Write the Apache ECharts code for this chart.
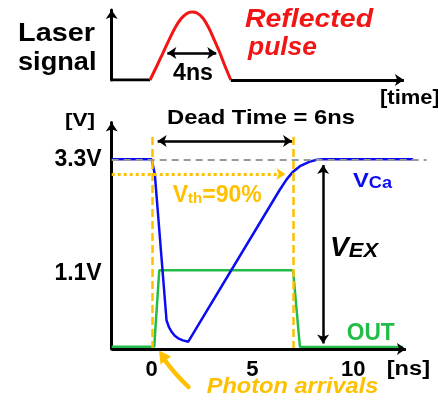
<!DOCTYPE html>
<html><head><meta charset="utf-8">
<script src="https://cdn.jsdelivr.net/npm/echarts@6/dist/echarts.min.js"></script>
<style>html,body{margin:0;padding:0;background:#fff}#c{width:438px;height:403px}</style>
</head><body><div id="c"></div>
<script>
// ---------- data (time in ns, level in drawn volts) ----------
const pulseTime  = [-0.08, 0.26, 0.56, 0.86, 1.16, 1.45, 1.75, 2.0, 2.25, 2.54, 2.84, 3.09, 3.39, 3.64, 3.93];
const pulseLevel = [0, 0.206, 0.397, 0.588, 0.765, 0.897, 0.978, 1.0, 0.985, 0.912, 0.765, 0.603, 0.397, 0.206, 0];
const laserBaseLeft  = [-1.98, -0.08];
const laserBaseRight = [3.93, 12.52];
const pulseWidthArrow = [0.78, 3.21, 0.397];

const vcaTime  = [-1.98, 0, 0.16, 0.74, 0.86, 0.99, 1.15, 1.32, 1.55, 1.82, 6.36, 6.7, 7.02, 7.36, 7.85, 8.2, 8.51, 12.98];
const vcaLevel = [3.3, 3.3, 3.04, 0.50, 0.38, 0.30, 0.23, 0.186, 0.15, 0.127, 2.77, 2.95, 3.085, 3.18, 3.26, 3.293, 3.3, 3.3];
const outTime  = [-1.98, 0.13, 0.38, 7.02, 7.36, 12.47];
const outLevel = [0.04, 0.04, 1.37, 1.37, 0.035, 0.035];

const xTickValues = [0, 5, 10];
const yTickValues = [1.31, 3.3];
const yTickLabels = ['1.1V', '3.3V'];
const vddLevel = 3.3;
const vthLevel = 3.045;
const photonTimes = [0.05, 7.03];
const deadTimeArrow = [0.30, 6.97, 3.62];
const vexArrow = [8.51, 3.2, 0.096];
const xAxisEnd = 12.62;
const xMin = -1.98, xMax = 13.7;

// ---------- styles ----------
const F = '"Liberation Sans", Arial, sans-serif';
const BLUE = '#0c0cf2', GREEN = '#22bd48', GOLD = '#ffc000', RED = '#f21515';
const zip = (a, b) => a.map((v, i) => [v, b[i]]);
const arrowEnd = (c, sym, size) => ({ coord: c, symbol: sym, symbolSize: size || [9, 10] });

const mctx = document.createElement('canvas').getContext('2d');
function fontOf(p) { return (p.italic ? 'italic ' : '') + 'bold ' + p.size + 'px ' + F; }
function tw(t, font) { mctx.font = font; return mctx.measureText(t).width; }
// text run with a horizontal stretch so that it spans `width` pixels
function run(x, base, width, parts) {
  const total = parts.reduce((s, p) => s + tw(p.t, fontOf(p)), 0);
  const k = width ? width / total : 1.1;
  const out = [];
  parts.forEach(p => {
    const font = fontOf(p);
    out.push({ type: 'text', x: x, y: base + (p.dy || 0) - 0.3465 * p.size, scaleX: k, silent: true, z: 50,
      style: { text: p.t, font: font, fill: p.fill || '#000', align: 'left', verticalAlign: 'middle' } });
    x += tw(p.t, font) * k;
  });
  return out;
}

const graphics = [].concat(
  run(18, 43, 77, [{ t: 'Laser', size: 26 }]),
  run(18, 71.7, 78.5, [{ t: 'signal', size: 26 }]),
  run(245, 28.3, 128, [{ t: 'Reflected', size: 25, italic: true, fill: RED }]),
  run(248, 57, 69, [{ t: 'pulse', size: 25, italic: true, fill: RED }]),
  run(173, 82, 40, [{ t: '4ns', size: 23 }]),
  run(380, 105, 0, [{ t: '[time]', size: 20 }]),
  run(65, 127.5, 30, [{ t: '[V]', size: 19 }]),
  run(167, 125, 188, [{ t: 'Dead Time = 6ns', size: 21 }]),
  run(172.7, 203.3, 89, [{ t: 'V', size: 23, fill: GOLD }, { t: 'th', size: 15, fill: GOLD, dy: 1 }, { t: '=90%', size: 23, fill: GOLD }]),
  run(353, 188.5, 39, [{ t: 'V', size: 21, fill: BLUE }, { t: 'Ca', size: 16, fill: BLUE, dy: 1 }]),
  run(330, 258, 48, [{ t: 'V', size: 27, italic: true }, { t: 'EX', size: 21, italic: true }]),
  run(346.7, 341.7, 48, [{ t: 'OUT', size: 23, fill: GREEN }]),
  run(386.7, 376.5, 43.3, [{ t: '[ns]', size: 20 }]),
  run(206.7, 395, 171.7, [{ t: 'Photon arrivals', size: 22, italic: true, fill: GOLD }]),
  [
    { type: 'bezierCurve', silent: true, z: 40,
      shape: { x1: 188.5, y1: 387, cpx1: 174, cpy1: 373, x2: 165.5, y2: 361 },
      style: { stroke: GOLD, lineWidth: 4.5, fill: null, lineCap: 'round' } },
    { type: 'polygon', silent: true, z: 40,
      shape: { points: [[159, 350.5], [171, 356.5], [160.5, 364.5]] },
      style: { fill: GOLD } }
  ]
);

const chart = echarts.init(document.getElementById('c'), null, { renderer: 'canvas' });
chart.setOption({
  animation: false,
  backgroundColor: '#fff',
  grid: [
    { left: 111.7, right: 10.3, top: 10, height: 70 },
    { left: 111.7, right: 10.3, top: 122.5, height: 226.5 }
  ],
  xAxis: [
    { type: 'value', gridIndex: 0, min: xMin, max: xMax, show: false },
    { type: 'value', gridIndex: 1, min: xMin, max: xMax,
      axisLine: { show: false }, axisTick: { show: false }, splitLine: { show: false },
      axisLabel: { customValues: xTickValues, margin: 10, color: '#000',
        fontFamily: F, fontWeight: 'bold', fontSize: 22 } }
  ],
  yAxis: [
    { type: 'value', gridIndex: 0, min: 0, max: 1.03,
      axisLine: { show: true, onZero: false, symbol: ['none', 'arrow'], symbolSize: [9, 9],
        lineStyle: { color: '#000', width: 3 } },
      axisTick: { show: false }, axisLabel: { show: false }, splitLine: { show: false } },
    { type: 'value', gridIndex: 1, min: 0, max: 3.94,
      axisLine: { show: true, onZero: false, symbol: ['none', 'arrow'], symbolSize: [9, 9],
        lineStyle: { color: '#000', width: 3 } },
      axisTick: { show: false }, splitLine: { show: false },
      axisLabel: { customValues: yTickValues, margin: 10, color: '#000', padding: [5, 0, 0, 0],
        fontFamily: F, fontWeight: 'bold', fontSize: 23,
        formatter: v => yTickLabels[yTickValues.indexOf(v)] } }
  ],
  series: [
    { name: 'laserBase', type: 'line', xAxisIndex: 0, yAxisIndex: 0, symbol: 'none', silent: true,
      data: laserBaseLeft.map(t => [t, 0]), lineStyle: { color: '#000', width: 3 },
      markLine: { silent: true, label: { show: false }, emphasis: { disabled: true },
        lineStyle: { color: '#000', width: 3, type: 'solid' },
        data: [[arrowEnd([laserBaseRight[0], 0], 'none'), arrowEnd([laserBaseRight[1], 0], 'arrow', [9, 9])]] } },
    { name: 'Reflected pulse', type: 'line', xAxisIndex: 0, yAxisIndex: 0, symbol: 'none', smooth: 0.35,
      clip: false, silent: true, z: 3,
      data: zip(pulseTime, pulseLevel), lineStyle: { color: RED, width: 3 },
      markLine: { silent: true, label: { show: false }, emphasis: { disabled: true },
        lineStyle: { color: '#000', width: 2.5, type: 'solid' },
        data: [[arrowEnd([pulseWidthArrow[0], pulseWidthArrow[2]], 'arrow', [9, 9]),
                arrowEnd([pulseWidthArrow[1], pulseWidthArrow[2]], 'arrow', [9, 9])]] } },
    { name: 'OUT', type: 'line', xAxisIndex: 1, yAxisIndex: 1, symbol: 'none', silent: true, z: 2,
      data: zip(outTime, outLevel), lineStyle: { color: GREEN, width: 2.5 },
      markLine: { silent: true, label: { show: false }, emphasis: { disabled: true }, symbol: 'none',
        data: [
          [ { coord: [xMin, vddLevel], symbol: 'none', lineStyle: { color: '#999', width: 2, type: [7, 5] } },
            { coord: [13.64, vddLevel], symbol: 'none' } ],
          [ { coord: [photonTimes[0], 0], symbol: 'none', lineStyle: { color: GOLD, width: 2.5, type: [8, 4] } },
            { coord: [photonTimes[0], 3.75], symbol: 'none' } ],
          [ { coord: [photonTimes[1], 0], symbol: 'none', lineStyle: { color: GOLD, width: 2.5, type: [8, 4] } },
            { coord: [photonTimes[1], 3.75], symbol: 'none' } ],
          [ { coord: [xMin, vthLevel], symbol: 'none', lineStyle: { color: GOLD, width: 3, type: [3, 3] } },
            { coord: [6.64, vthLevel], symbol: 'arrow', symbolSize: [9, 9], itemStyle: { color: GOLD } } ],
          [ { coord: [deadTimeArrow[0], deadTimeArrow[2]], symbol: 'arrow', symbolSize: [9, 9], lineStyle: { color: '#000', width: 2.5, type: 'solid' } },
            { coord: [deadTimeArrow[1], deadTimeArrow[2]], symbol: 'arrow', symbolSize: [9, 9] } ],
          [ { coord: [vexArrow[0], vexArrow[1]], symbol: 'arrow', symbolSize: [9, 9], lineStyle: { color: '#000', width: 2.5, type: 'solid' } },
            { coord: [vexArrow[0], vexArrow[2]], symbol: 'arrow', symbolSize: [9, 9] } ],
          [ { coord: [xMin, 0], symbol: 'none', lineStyle: { color: '#000', width: 3, type: 'solid' } },
            { coord: [xAxisEnd, 0], symbol: 'arrow', symbolSize: [9, 9] } ]
        ] } },
    { name: 'VCa', type: 'line', xAxisIndex: 1, yAxisIndex: 1, symbol: 'none', silent: true, z: 4,
      data: zip(vcaTime, vcaLevel), lineStyle: { color: BLUE, width: 2.5 } }
  ],
  graphic: graphics
});
</script></body></html>
